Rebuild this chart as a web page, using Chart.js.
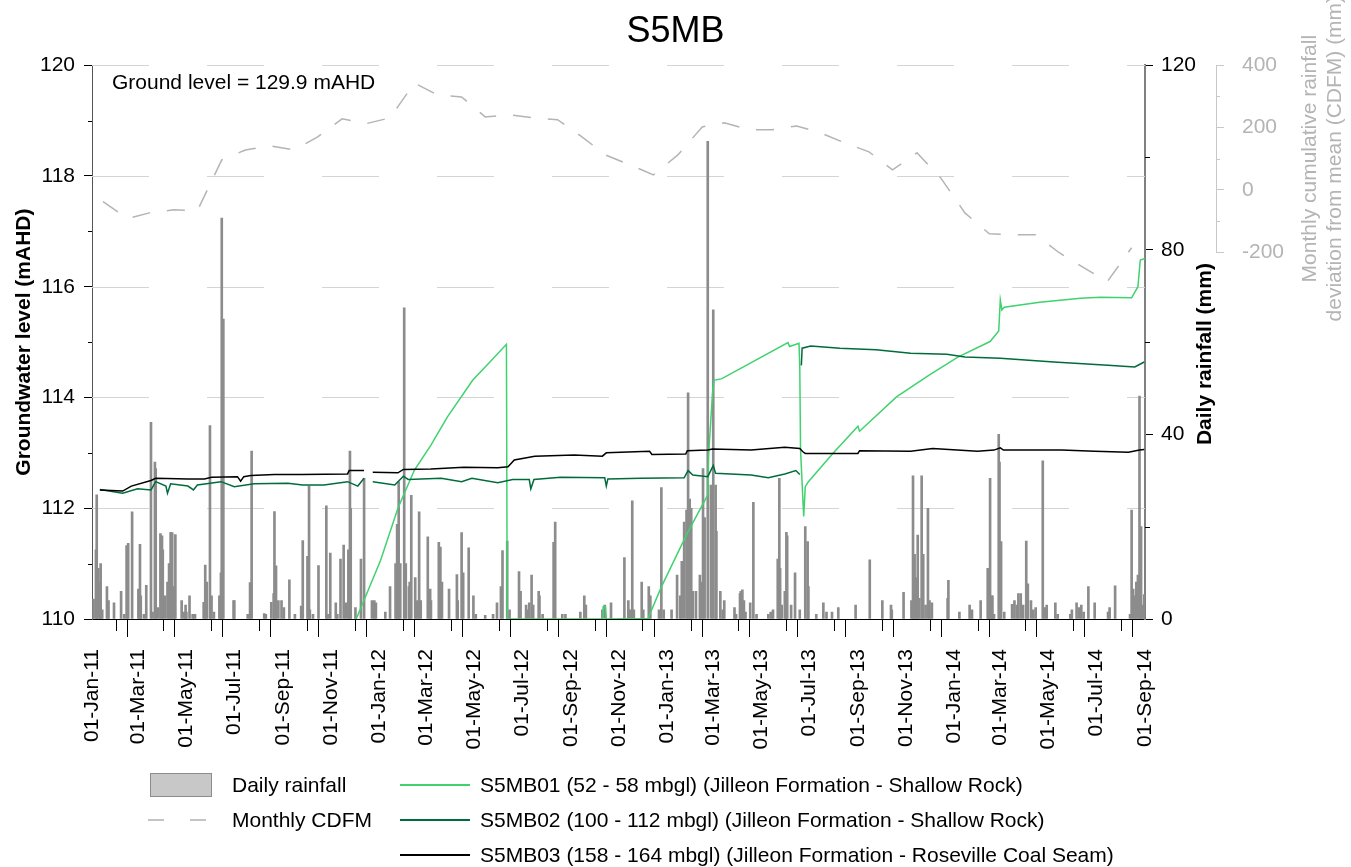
<!DOCTYPE html>
<html>
<head>
<meta charset="utf-8">
<script src="https://cdn.jsdelivr.net/npm/chart.js@4.4.1/dist/chart.umd.min.js"></script>
<style>
  html, body { margin: 0; padding: 0; background: #fff; }
  #wrap { position: relative; width: 1351px; height: 867px; }
  canvas { display: block; }
  #legend { position: absolute; left: 0; top: 0; width: 1351px; height: 867px; pointer-events: none;
            font: 21px Arial, "Liberation Sans", sans-serif; color: #000; }
  #legend div { position: absolute; }
  #legend .txt { line-height: 24px; white-space: nowrap; }
</style>
</head>
<body>
<div id="wrap">
  <canvas id="chart" width="1351" height="867"></canvas>
  <div id="legend">
    <div style="left:150px;top:773px;width:60px;height:22px;background:#c8c8c8;border:1px solid #8c8c8c;"></div>
    <div class="txt" style="left:232px;top:773px;">Daily rainfall</div>
    <div style="left:148px;top:819px;width:16px;height:2px;background:#c4c4c4;"></div>
    <div style="left:190px;top:819px;width:16px;height:2px;background:#c4c4c4;"></div>
    <div class="txt" style="left:232px;top:808px;">Monthly CDFM</div>
    <div style="left:400px;top:784px;width:70px;height:2px;background:#3fd26f;"></div>
    <div class="txt" style="left:480px;top:773px;">S5MB01 (52 - 58 mbgl) (Jilleon Formation - Shallow Rock)</div>
    <div style="left:400px;top:819px;width:70px;height:2px;background:#006b3c;"></div>
    <div class="txt" style="left:480px;top:808px;">S5MB02 (100 - 112 mbgl) (Jilleon Formation - Shallow Rock)</div>
    <div style="left:400px;top:854px;width:70px;height:2px;background:#000;"></div>
    <div class="txt" style="left:480px;top:843px;">S5MB03 (158 - 164 mbgl) (Jilleon Formation - Roseville Coal Seam)</div>
  </div>
</div>
<script>
const FONT = 'Arial, "Liberation Sans", sans-serif';

// daily rainfall (mm)
const rainDates = [
  '2011-01-03','2011-01-06','2011-01-07','2011-01-09','2011-01-11','2011-01-12','2011-01-14','2011-01-20','2011-01-22','2011-01-29',
  '2011-02-07','2011-02-11','2011-02-14','2011-02-16','2011-02-21','2011-03-01','2011-03-03','2011-03-04','2011-03-08','2011-03-11',
  '2011-03-17','2011-03-19','2011-03-22','2011-03-23','2011-03-26','2011-03-29','2011-03-31','2011-04-01','2011-04-04','2011-04-07',
  '2011-04-09','2011-04-11','2011-04-13','2011-04-15','2011-04-17','2011-04-25','2011-04-28','2011-04-30','2011-05-01','2011-05-05',
  '2011-05-09','2011-05-12','2011-05-23','2011-05-25','2011-05-27','2011-05-31','2011-06-02','2011-06-05','2011-06-12','2011-06-14',
  '2011-06-15','2011-06-17','2011-06-30','2011-07-01','2011-07-18','2011-07-21','2011-07-23','2011-08-08','2011-08-10','2011-08-17',
  '2011-08-20','2011-08-21','2011-08-23','2011-08-26','2011-08-30','2011-09-02','2011-09-09','2011-09-16','2011-09-24','2011-09-26',
  '2011-10-02','2011-10-04','2011-10-05','2011-10-09','2011-10-16','2011-10-26','2011-10-28','2011-10-31','2011-11-07','2011-11-09',
  '2011-11-13','2011-11-17','2011-11-20','2011-11-23','2011-11-25','2011-11-26','2011-12-02','2011-12-09','2011-12-13','2011-12-23',
  '2011-12-26','2011-12-28','2012-01-09','2012-01-15','2012-01-22','2012-01-24','2012-01-26','2012-01-28','2012-02-02','2012-02-04',
  '2012-02-08','2012-02-09','2012-02-11','2012-02-16','2012-02-18','2012-02-21','2012-02-23','2012-03-03','2012-03-06','2012-03-07',
  '2012-03-17','2012-03-19','2012-03-21','2012-03-30','2012-04-09','2012-04-10','2012-04-15','2012-04-17','2012-04-24','2012-04-30',
  '2012-05-03','2012-05-15','2012-05-25','2012-05-30','2012-06-04','2012-06-06','2012-06-12','2012-06-15','2012-06-27','2012-06-29',
  '2012-07-06','2012-07-07','2012-07-10','2012-07-13','2012-07-15','2012-07-22','2012-07-23','2012-07-27','2012-08-10','2012-08-12',
  '2012-08-21','2012-08-25','2012-09-13','2012-09-18','2012-09-20','2012-10-11','2012-10-14','2012-10-22','2012-11-08','2012-11-13',
  '2012-11-15','2012-11-18','2012-11-20','2012-11-30','2012-12-02','2012-12-09','2012-12-11','2012-12-22','2012-12-25','2012-12-28',
  '2013-01-07','2013-01-14','2013-01-18','2013-01-20','2013-01-23','2013-01-26','2013-01-28','2013-01-30','2013-02-01','2013-02-03',
  '2013-02-07','2013-02-12','2013-02-13','2013-02-16','2013-02-18','2013-02-22','2013-02-26','2013-03-01','2013-03-04','2013-03-05',
  '2013-03-10','2013-03-13','2013-03-15','2013-03-28','2013-03-30','2013-04-04','2013-04-05','2013-04-07','2013-04-09','2013-04-11',
  '2013-04-17','2013-04-21','2013-04-25','2013-05-10','2013-05-13','2013-05-16','2013-05-22','2013-05-24','2013-05-25','2013-05-27',
  '2013-05-31','2013-06-02','2013-06-03','2013-06-08','2013-06-13','2013-06-19','2013-06-26','2013-06-29','2013-06-30','2013-07-10',
  '2013-07-19','2013-07-23','2013-07-30','2013-08-07','2013-08-29','2013-09-16','2013-10-02','2013-10-13','2013-10-14','2013-10-29',
  '2013-11-08','2013-11-10','2013-11-12','2013-11-14','2013-11-16','2013-11-18','2013-11-21','2013-11-23','2013-11-26','2013-11-29',
  '2013-12-01','2013-12-04','2013-12-24','2013-12-25','2014-01-08','2014-01-21','2014-01-24','2014-02-04','2014-02-13','2014-02-14',
  '2014-02-16','2014-02-18','2014-02-19','2014-02-21','2014-02-27','2014-02-28','2014-03-02','2014-03-06','2014-03-16','2014-03-19',
  '2014-03-22','2014-03-24','2014-03-27','2014-03-30','2014-04-03','2014-04-05','2014-04-09','2014-04-12','2014-04-15','2014-04-24',
  '2014-04-27','2014-04-29','2014-05-10','2014-05-13','2014-05-29','2014-05-31','2014-06-06','2014-06-09','2014-06-12','2014-06-15',
  '2014-06-21','2014-06-29','2014-07-16','2014-07-18','2014-07-25','2014-08-13','2014-08-15','2014-08-17','2014-08-19','2014-08-21',
  '2014-08-23','2014-08-25','2014-08-27','2014-08-28','2014-08-31'
];
const rainMm = [
  4.3,15,26.9,11,8,12,2,7,4,3.5,
  6,1,15.9,16.4,23.2,6.5,16.2,5,1,7.3,
  42.6,1.5,34,32.6,2.5,18.5,18,15,5,8,
  12,18.8,18.7,7,18.3,4,1.5,3,1.5,5,
  1,1,3.6,11.7,8,41.9,5,1.5,5,10,
  86.9,65,4,4,1,7.9,36.4,1.2,1,3.6,
  5.5,23.3,11.5,4,4,2.5,8.5,1,2.8,17,
  13.6,28.8,2,1,11.6,24.5,1,14.3,3.5,1,
  13,16,3.5,15,36.4,24,2.5,13,30.5,4,
  4,3.5,1.5,7,12,20.5,29.7,12,67.4,12,
  7,8,26.8,9,4,23.2,4,17.8,6.5,4,
  16.6,15.6,8,6.5,9.6,4,18.7,10,15.4,5,
  1,0.8,1,3.5,7,14.8,16.9,2,10.3,6,
  3,2,3.5,9.5,3,6,5,1,16.6,21,
  1,1,1.5,5,3,2,3,3.5,13.3,4,
  2,25.6,2,8,2,7,5,2,28.5,2,
  2,9.5,5,12.5,21,23.6,49,26,24,6,
  6,9.5,8,32.6,22,103.5,29,67,29,19,
  6,2,4,2.5,1,5.5,6,6.3,4,1.5,
  3.5,25.3,1,1,1.5,2,13,30.5,11,3,
  6,18.8,18,3,10,2,20,16.8,7,1,
  3.5,1.5,1.5,2.5,3,12.8,4,3,2,5.8,
  4,31,14,9,18.2,4.5,31,14,3,24,
  4,3.5,4.5,8.4,1.5,3,2,4,11,3,
  30.5,5,5,1,40,34,16.8,1.5,3.2,4,
  3,5.5,5.5,3,16.9,7.6,4,2,2.5,34.3,
  2.5,3,3.5,1,1,2,3.5,2.5,3,1.5,
  7,3.5,1.5,2.5,7.2,1,23.6,6.5,5,8,
  9.5,48.3,20,3,5.3
];

// monthly cumulative deviation from mean (mm), Jan 2011 .. Aug 2014
const cdfmMonths = [
  '2011-01','2011-02','2011-03','2011-04','2011-05','2011-06','2011-07','2011-08','2011-09','2011-10','2011-11','2011-12',
  '2012-01','2012-02','2012-03','2012-04','2012-05','2012-06','2012-07','2012-08','2012-09','2012-10','2012-11','2012-12',
  '2013-01','2013-02','2013-03','2013-04','2013-05','2013-06','2013-07','2013-08','2013-09','2013-10','2013-11','2013-12',
  '2014-01','2014-02','2014-03','2014-04','2014-05','2014-06','2014-07','2014-08'
];
const cdfmValues = [
  -38,-92,-74,-64,-67,96,128,141,128,170,228,212,
  231,343,305,298,234,241,231,225,170,112,80,48,
  112,202,215,193,193,205,183,151,122,64,119,39,
  -74,-141,-144,-144,-202,-250,-295,-186
];

// groundwater levels (mAHD)
const s1Dates = [
  '2011-12-03','2012-01-03','2012-01-25','2012-02-15','2012-03-07','2012-03-28','2012-04-29','2012-05-21','2012-06-11','2012-06-12',
  '2012-10-11','2012-10-12','2012-10-15','2012-10-16','2012-12-08','2012-12-25','2013-01-27','2013-02-22','2013-02-23','2013-02-28',
  '2013-03-02','2013-03-12','2013-06-04','2013-06-06','2013-06-18','2013-06-19','2013-06-20','2013-06-24','2013-06-26','2013-06-30',
  '2013-07-31','2013-09-01','2013-09-03','2013-10-20','2013-11-30','2014-01-06','2014-02-16','2014-02-27','2014-03-01','2014-03-03',
  '2014-03-06','2014-04-20','2014-06-11','2014-07-06','2014-08-15','2014-08-23','2014-08-26','2014-09-01'
];
const s1Level = [
  110.0,111.06,112.0,112.69,113.14,113.65,114.31,114.64,114.96,110.0,
  110.0,110.22,110.22,110.0,110.01,110.58,111.55,112.24,112.94,114.07,
  114.31,114.34,114.99,114.92,114.98,114.55,113.05,111.85,112.39,112.48,
  112.99,113.48,113.39,114.01,114.40,114.73,115.01,115.20,115.76,115.58,
  115.63,115.72,115.79,115.81,115.80,116.0,116.48,116.51
];
const s2Dates = [
  '2011-01-11','2011-02-09','2011-02-28','2011-03-17','2011-03-23','2011-04-05','2011-04-07','2011-04-11','2011-05-03','2011-05-10',
  '2011-05-15','2011-06-14','2011-07-01','2011-07-26','2011-09-07','2011-09-26','2011-10-23','2011-11-22','2011-12-05','2011-12-13',
  '2011-12-16','2011-12-24','2012-01-21','2012-02-01','2012-02-07','2012-03-20','2012-04-15','2012-04-28','2012-05-31','2012-06-19',
  '2012-07-10','2012-07-12','2012-07-16','2012-08-19','2012-10-14','2012-10-16','2012-10-18','2012-11-29','2013-01-23','2013-01-28',
  '2013-02-03','2013-02-22','2013-03-01','2013-03-04','2013-04-18','2013-05-10','2013-05-31','2013-06-14','2013-06-19','2013-06-20',
  '2013-06-21','2013-06-22','2013-07-03','2013-08-09','2013-09-24','2013-11-07','2013-12-23','2014-01-15','2014-03-01','2014-05-08',
  '2014-07-16','2014-08-19','2014-08-31'
];
const s2Level = [
  112.34,112.27,112.35,112.33,112.48,112.40,112.27,112.44,112.40,112.33,
  112.42,112.48,112.39,112.44,112.45,112.42,112.42,112.48,112.40,112.54,
  null,112.48,112.42,112.58,112.52,112.54,112.48,112.54,112.46,112.52,
  112.52,112.35,112.52,112.56,112.55,112.40,112.53,112.54,112.55,112.68,
  112.60,112.57,112.77,112.63,112.60,112.55,112.62,112.68,112.61,null,
  114.58,114.89,114.93,114.89,114.86,114.80,114.78,114.73,114.71,114.64,
  114.58,114.55,114.64
];
const s3Dates = [
  '2011-01-11','2011-02-09','2011-02-20','2011-03-17','2011-03-23','2011-05-03','2011-05-24','2011-06-02','2011-07-05','2011-07-09',
  '2011-07-13','2011-07-22','2011-08-21','2011-09-24','2011-11-22','2011-11-24','2011-12-13','2011-12-16','2011-12-24','2012-01-25',
  '2012-02-01','2012-03-07','2012-04-18','2012-05-31','2012-06-13','2012-06-21','2012-07-17','2012-09-05','2012-10-11','2012-10-16',
  '2012-12-10','2012-12-13','2013-01-25','2013-01-27','2013-02-22','2013-02-28','2013-04-18','2013-05-31','2013-06-19','2013-06-23',
  '2013-06-26','2013-09-01','2013-09-03','2013-11-07','2013-12-05','2014-01-31','2014-02-21','2014-03-01','2014-03-05','2014-05-18',
  '2014-06-29','2014-08-11','2014-08-25','2014-08-31'
];
const s3Level = [
  112.33,112.31,112.40,112.50,112.54,112.53,112.53,112.56,112.57,112.49,
  112.57,112.59,112.61,112.61,112.62,112.68,112.68,null,112.65,112.64,
  112.70,112.71,112.74,112.73,112.75,112.87,112.94,112.96,112.94,113.00,
  113.03,112.97,112.98,113.04,113.05,113.07,113.05,113.10,113.08,113.02,
  112.99,112.99,113.04,113.03,113.08,113.03,113.05,113.09,113.05,113.05,
  113.03,113.01,113.05,113.06
];

// axis ticks
const MONTHS = ['Jan','Feb','Mar','Apr','May','Jun','Jul','Aug','Sep','Oct','Nov','Dec'];
const firstMonth = [2011, 0];
const monthCount = 45;               // 01-Jan-11 .. 01-Sep-14
const levelMinor = [111, 113, 115, 117, 119];
const rainMinor = [20, 60, 100];
const cdfmMinor = [300, 100, -100];

const T0 = Date.UTC(2011, 0, 1);
function dayOf(s) {
  const p = s.split('-').map(Number);
  return (Date.UTC(p[0], p[1] - 1, p[2] || 1) - T0) / 864e5;
}
const points = (dates, vals) => dates.map((d, i) => ({ x: dayOf(d), y: vals[i] }));

const monthTicks = [];
const monthLabels = [];
for (let i = 0; i < monthCount; i++) {
  const y = firstMonth[0] + Math.floor((firstMonth[1] + i) / 12);
  const m = (firstMonth[1] + i) % 12;
  monthTicks.push((Date.UTC(y, m, 1) - T0) / 864e5);
  monthLabels.push(i % 2 === 0 ? '01-' + MONTHS[m] + '-' + String(y).slice(2) : '');
}

// long-dash horizontal grid at the level ticks (segments drawn one by one)
const DASH = 57, GAP = 58;
const dashedGrid = {
  id: 'dashedGrid',
  beforeDatasetsDraw(chart) {
    const { ctx, chartArea, scales } = chart;
    ctx.save();
    ctx.strokeStyle = '#d4d4d4';
    ctx.lineWidth = 1;
    ctx.beginPath();
    scales.y.ticks.forEach(t => {
      if (t.value === scales.y.min) return;
      const py = Math.round(scales.y.getPixelForValue(t.value)) + 0.5;
      for (let x = chartArea.left; x < chartArea.right; x += DASH + GAP) {
        ctx.moveTo(x, py);
        ctx.lineTo(Math.min(x + DASH, chartArea.right), py);
      }
    });
    ctx.stroke();
    ctx.restore();
  }
};

// short ticks that Chart.js cannot size separately
const minorTicks = {
  id: 'minorTicks',
  afterDraw(chart) {
    const { ctx, scales } = chart;
    ctx.save();
    ctx.lineWidth = 1;
    ctx.strokeStyle = '#000';
    ctx.beginPath();
    monthTicks.forEach((v, i) => {
      if (i % 2 === 0) return;
      const px = Math.round(scales.x.getPixelForValue(v)) + 0.5;
      ctx.moveTo(px, scales.x.top);
      ctx.lineTo(px, scales.x.top + 12);
    });
    levelMinor.forEach(v => {
      const py = Math.round(scales.y.getPixelForValue(v)) + 0.5;
      ctx.moveTo(scales.y.right - 4, py);
      ctx.lineTo(scales.y.right, py);
    });
    rainMinor.forEach(v => {
      const py = Math.round(scales.yRain.getPixelForValue(v)) + 0.5;
      ctx.moveTo(scales.yRain.left, py);
      ctx.lineTo(scales.yRain.left + 5, py);
    });
    ctx.stroke();
    ctx.strokeStyle = '#c8c8c8';
    ctx.beginPath();
    cdfmMinor.forEach(v => {
      const py = Math.round(scales.yCdfm.getPixelForValue(v)) + 0.5;
      ctx.moveTo(scales.yCdfm.left, py);
      ctx.lineTo(scales.yCdfm.left + 4, py);
    });
    ctx.stroke();
    ctx.restore();
  }
};

// right-hand axis titles (read bottom to top) and the ground level note
const extraText = {
  id: 'extraText',
  afterDraw(chart) {
    const { ctx, chartArea, scales } = chart;
    ctx.save();
    ctx.textAlign = 'center';
    ctx.textBaseline = 'middle';

    ctx.save();
    ctx.font = 'bold 21px ' + FONT;
    ctx.fillStyle = '#000';
    ctx.translate(scales.yRain.right - 11, (chartArea.top + chartArea.bottom) / 2 + 12);
    ctx.rotate(-Math.PI / 2);
    ctx.fillText('Daily rainfall (mm)', 0, 0);
    ctx.restore();

    ctx.save();
    ctx.font = '21px ' + FONT;
    ctx.fillStyle = '#b4b4b4';
    const cy = (scales.yCdfm.top + scales.yCdfm.bottom) / 2;
    ctx.translate(scales.yCdfm.left + 94, cy);
    ctx.rotate(-Math.PI / 2);
    ctx.fillText('Monthly cumulative rainfall', 0, 0);
    ctx.fillText('deviation from mean (CDFM) (mm)', 0, 25);
    ctx.restore();

    ctx.font = '21px ' + FONT;
    ctx.fillStyle = '#000';
    ctx.textAlign = 'left';
    ctx.fillText('Ground level = 129.9 mAHD', chartArea.left + 20, chartArea.top + 18);
    ctx.restore();
  }
};

Chart.defaults.font.family = FONT;
Chart.defaults.font.size = 21;
Chart.defaults.color = '#000';

new Chart(document.getElementById('chart'), {
  type: 'line',
  data: {
    datasets: [
      {
        label: 'S5MB03 (158 - 164 mbgl) (Jilleon Formation - Roseville Coal Seam)',
        data: points(s3Dates, s3Level),
        borderColor: '#000', borderWidth: 1.5, pointRadius: 0, yAxisID: 'y', order: 1
      },
      {
        label: 'S5MB02 (100 - 112 mbgl) (Jilleon Formation - Shallow Rock)',
        data: points(s2Dates, s2Level),
        borderColor: '#006b3c', borderWidth: 1.5, pointRadius: 0, yAxisID: 'y', order: 2
      },
      {
        label: 'S5MB01 (52 - 58 mbgl) (Jilleon Formation - Shallow Rock)',
        data: points(s1Dates, s1Level),
        borderColor: '#3fd26f', borderWidth: 1.5, pointRadius: 0, yAxisID: 'y', order: 3
      },
      {
        label: 'Monthly CDFM',
        data: cdfmMonths.map((m, i) => ({ x: dayOf(m + '-15'), y: cdfmValues[i] })),
        borderColor: '#b4b4b4', borderWidth: 1.5, borderDash: [18, 17], pointRadius: 0,
        yAxisID: 'yCdfm', order: 4,
        clip: { left: 0, right: 0, top: 0, bottom: false }   // CDFM axis covers only the top third
      },
      {
        type: 'bar',
        label: 'Daily rainfall',
        data: points(rainDates, rainMm),
        backgroundColor: '#8c8c8c', barThickness: 2, yAxisID: 'yRain', order: 10
      }
    ]
  },
  options: {
    responsive: false,
    animation: false,
    events: [],
    layout: { padding: { top: 10, left: 0, right: 0, bottom: 118 } },
    plugins: {
      legend: { display: false },
      tooltip: { enabled: false },
      title: {
        display: true, text: 'S5MB', color: '#000',
        font: { size: 36, weight: 'normal' }, padding: { top: 0, bottom: 12 }
      }
    },
    scales: {
      x: {
        type: 'linear', min: 0, max: monthTicks[monthTicks.length - 1], offset: false,
        afterBuildTicks: s => { s.ticks = monthTicks.map(v => ({ value: v })); },
        afterFit: s => { s.height = 130; },
        ticks: {
          autoSkip: false, minRotation: 90, maxRotation: 90, padding: 12,
          callback: (v, i) => monthLabels[i]
        },
        grid: {
          drawOnChartArea: false, tickLength: 18, tickWidth: 1,
          tickColor: c => (c.index % 2 === 0 ? '#000' : 'rgba(0,0,0,0)')
        },
        border: { color: '#000', width: 1 }
      },
      y: {
        type: 'linear', position: 'left', min: 110, max: 120,
        afterFit: s => { s.width = 92; },
        ticks: { stepSize: 2, padding: 9 },
        grid: { drawOnChartArea: false, tickColor: '#000', tickLength: 8 },
        border: { color: '#555', width: 1 },
        title: {
          display: true, text: 'Groundwater level (mAHD)',
          font: { size: 21, weight: 'bold' }, padding: { top: 12, bottom: 0 }
        }
      },
      yRain: {
        type: 'linear', position: 'right', min: 0, max: 120,
        afterFit: s => { s.width = 71; },
        ticks: { stepSize: 40, padding: 8 },
        grid: { drawOnChartArea: false, tickLength: 8, tickColor: '#000' },
        border: { color: '#808080', width: 2 }
      },
      yCdfm: {
        type: 'linear', position: 'right', stack: 'cdfm', stackWeight: 187,
        min: -200, max: 400,
        afterFit: s => { s.width = 135; },
        ticks: { stepSize: 200, padding: 18, color: '#b4b4b4' },
        grid: { drawOnChartArea: false, tickLength: 8, tickColor: '#c8c8c8' },
        border: { color: '#c8c8c8', width: 1 }
      },
      yPad: {
        type: 'linear', position: 'right', stack: 'cdfm', stackWeight: 367,
        afterFit: s => { s.width = 135; },
        ticks: { display: false },
        grid: { display: false },
        border: { display: false }
      }
    }
  },
  plugins: [dashedGrid, minorTicks, extraText]
});
</script>
</body>
</html>
